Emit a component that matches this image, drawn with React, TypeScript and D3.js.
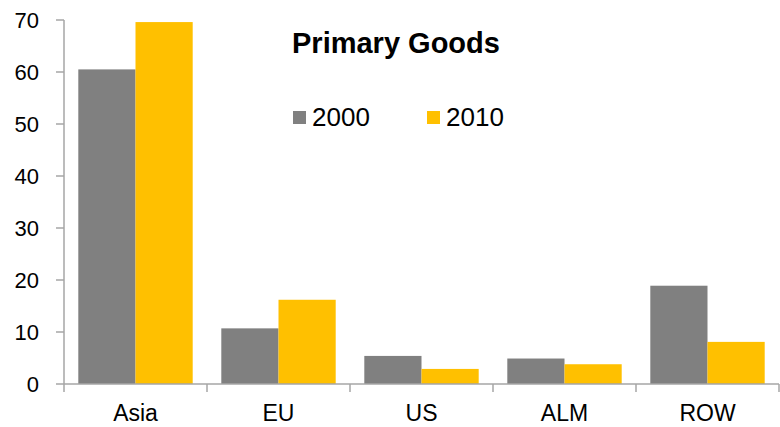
import React from "react";
import * as d3 from "d3";

const categories = ["Asia", "EU", "US", "ALM", "ROW"];
const seriesNames = ["2000", "2010"];
const values2000 = [60.5, 10.7, 5.4, 4.9, 18.9];
const values2010 = [69.6, 16.2, 2.9, 3.8, 8.1];
const yTicks = [0, 10, 20, 30, 40, 50, 60, 70];
const colors = ["#808080", "#FFC000"];

export default function App() {
  const W = 780, H = 427;
  const x0 = 64, x1 = 779, yBottom = 384, yTop = 20;
  const x = d3.scaleBand<string>().domain(categories).range([x0, x1]).paddingInner(0).paddingOuter(0);
  const y = d3.scaleLinear().domain([0, 70]).range([yBottom, yTop]);
  const inner = d3.scaleBand<string>().domain(seriesNames).range([0, x.bandwidth()]).paddingOuter(0.25).paddingInner(0);
  const series = [values2000, values2010];
  const axisColor = "#a6a6a6";
  const font = "Arial, 'Liberation Sans', sans-serif";
  return (
    <svg width={W} height={H} style={{ position: "absolute", left: 0, top: 0 }} fontFamily={font}>
      {series.map((vals, si) =>
        categories.map((c, i) => (
          <rect key={`${si}-${c}`} x={(x(c) ?? 0) + (inner(seriesNames[si]) ?? 0)} y={y(vals[i])}
            width={inner.bandwidth()} height={yBottom - y(vals[i])} fill={colors[si]} />
        ))
      )}
      <line x1={x0} x2={x0} y1={yTop} y2={yBottom} stroke={axisColor} strokeWidth={1.5} />
      <line x1={x0} x2={x1} y1={yBottom} y2={yBottom} stroke={axisColor} strokeWidth={1.5} />
      {yTicks.map(t => (
        <g key={t}>
          <line x1={56} x2={x0} y1={y(t)} y2={y(t)} stroke={axisColor} strokeWidth={1.5} />
          <text x={39} y={y(t)} dy="0.36em" textAnchor="end" fontSize={22} fill="#000">{t}</text>
        </g>
      ))}
      {categories.map((c) => (
        <line key={c} x1={(x(c) ?? 0)} x2={(x(c) ?? 0)} y1={yBottom} y2={392} stroke={axisColor} strokeWidth={1.5} />
      ))}
      <line x1={x1} x2={x1} y1={yBottom} y2={392} stroke={axisColor} strokeWidth={1.5} />
      {categories.map(c => (
        <text key={c} x={(x(c) ?? 0) + x.bandwidth() / 2} y={421} textAnchor="middle" fontSize={23} fill="#000">{c}</text>
      ))}
      <text x={292} y={53} fontSize={29} fontWeight="bold" fill="#000">Primary Goods</text>
      {seriesNames.map((s, i) => (
        <g key={s} transform={`translate(${293 + i * 134},0)`}>
          <rect x={0} y={111} width={13} height={13} fill={colors[i]} />
          <text x={19} y={126} fontSize={26} fill="#000">{s}</text>
        </g>
      ))}
    </svg>
  );
}
